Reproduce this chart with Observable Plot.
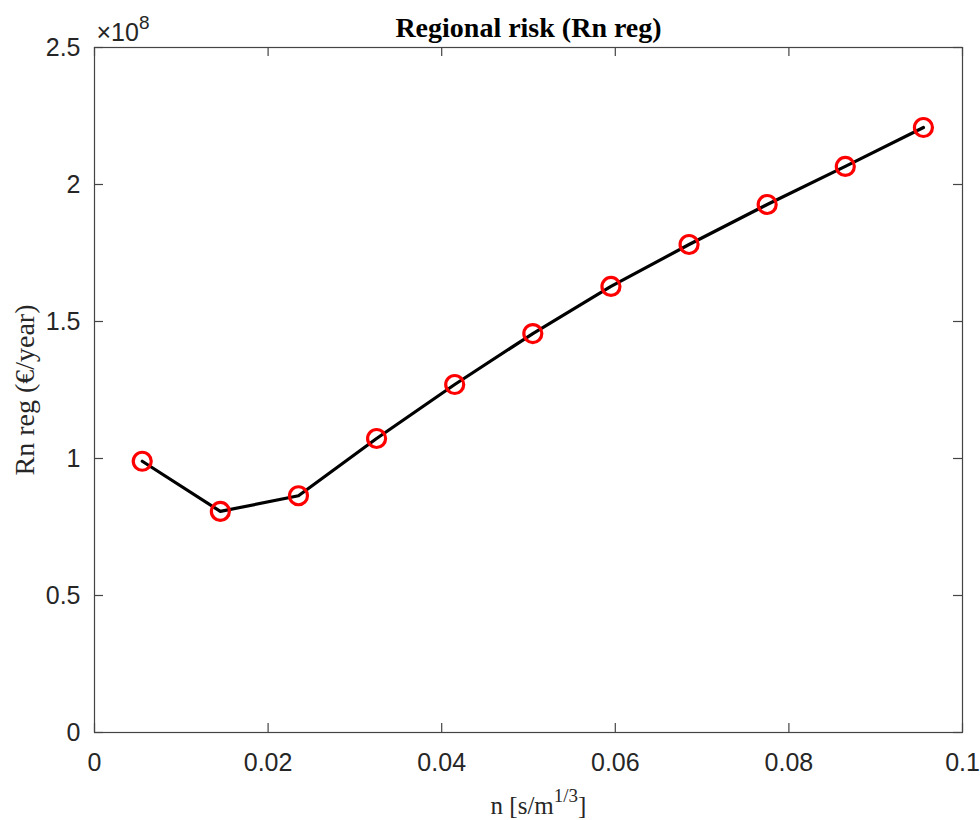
<!DOCTYPE html>
<html>
<head>
<meta charset="utf-8">
<script src="https://cdn.jsdelivr.net/npm/d3@7"></script>
<script src="https://cdn.jsdelivr.net/npm/@observablehq/plot@0.6"></script>
<style>
  html, body { margin: 0; padding: 0; background: #fff; }
  svg { display: block; }
</style>
</head>
<body>
<div id="chart"></div>
<script>
// ---- data ----
const nValues = [0.0055, 0.0145, 0.0235, 0.0325, 0.0415, 0.0505, 0.0595, 0.0685, 0.0775, 0.0865, 0.0955];
const riskValues = [0.990e8, 0.807e8, 0.864e8, 1.073e8, 1.270e8, 1.456e8, 1.628e8, 1.781e8, 1.927e8, 2.066e8, 2.208e8];
const xTicks = [0, 0.02, 0.04, 0.06, 0.08, 0.1];
const yTicks = [0, 0.5, 1, 1.5, 2, 2.5];
const xTickLabels = ["0", "0.02", "0.04", "0.06", "0.08", "0.1"];
const yTickLabels = ["0", "0.5", "1", "1.5", "2", "2.5"];
const exponent = 8;
const titleText = "Regional risk (Rn reg)";
const yLabelText = "Rn reg (\u20AC/year)";
const xLabelMain = "n [s/m";
const xLabelSup = "1/3";
const xLabelEnd = "]";

const data = nValues.map((n, i) => ({ n, r: riskValues[i] / Math.pow(10, exponent) }));

const W = 980, H = 820;
const mL = 94, mR = 18, mT = 47, mB = 88;
const fw = W - mL - mR, fh = H - mT - mB;
const tickLen = 9;
const axisColor = "#262626";
const frameColor = "#444";
const sans = "'Liberation Sans', Arial, Helvetica, sans-serif";
const serif = "'Liberation Serif', 'Times New Roman', Times, serif";

const svg = Plot.plot({
  width: W,
  height: H,
  marginLeft: mL, marginRight: mR, marginTop: mT, marginBottom: mB,
  x: { domain: [0, 0.1] },
  y: { domain: [0, 2.5] },
  style: { background: "#fff", overflow: "visible" },
  marks: [
    Plot.frame({ stroke: frameColor, strokeWidth: 1.2 }),
    // inward ticks, bottom & top
    Plot.tickX(xTicks, { x: d => d, insetTop: fh - tickLen, stroke: frameColor, strokeWidth: 1.2 }),
    Plot.tickX(xTicks, { x: d => d, insetBottom: fh - tickLen, stroke: frameColor, strokeWidth: 1.2 }),
    // inward ticks, left & right
    Plot.tickY(yTicks, { y: d => d, insetRight: fw - tickLen, stroke: frameColor, strokeWidth: 1.2 }),
    Plot.tickY(yTicks, { y: d => d, insetLeft: fw - tickLen, stroke: frameColor, strokeWidth: 1.2 }),
    Plot.axisX({ ticks: xTicks, tickSize: 0, tickPadding: 21, label: null,
      tickFormat: d => xTickLabels[xTicks.indexOf(d)], fontSize: 25, fontFamily: sans, fill: axisColor }),
    Plot.axisY({ ticks: yTicks, tickSize: 0, tickPadding: 14, label: null,
      tickFormat: d => yTickLabels[yTicks.indexOf(d)], fontSize: 25, fontFamily: sans, fill: axisColor }),
    Plot.line(data, { x: "n", y: "r", stroke: "#000", strokeWidth: 3.2 }),
    Plot.dot(data, { x: "n", y: "r", r: 9, stroke: "#ff0000", strokeWidth: 3.2, fill: "none" }),
    // title
    Plot.text([titleText], { text: d => d, frameAnchor: "top", dy: -11, lineAnchor: "bottom", textAnchor: "middle",
      fontSize: 28, fontWeight: "bold", fontFamily: serif, fill: "#000" }),
    // y label
    Plot.text([yLabelText], { text: d => d, frameAnchor: "left", dx: -69, rotate: -90, lineAnchor: "middle",
      textAnchor: "middle", fontSize: 28, fontFamily: serif, fill: axisColor }),
    // x label (superscript added below)
    Plot.text([xLabelMain + xLabelSup + xLabelEnd], { text: d => d, frameAnchor: "bottom", dx: 10, dy: 81, lineAnchor: "bottom",
      textAnchor: "middle", fontSize: 25, fontFamily: serif, fill: axisColor }),
    // exponent
    Plot.text(["\u00D710" + exponent], { text: d => d, frameAnchor: "top-left", dx: 2, dy: -7, lineAnchor: "bottom",
      textAnchor: "start", fontSize: 25, fontFamily: sans, fill: axisColor })
  ]
});

function findText(str) {
  return d3.select(svg).selectAll("text").filter(function () { return this.textContent === str; });
}

// superscripts
const xl = findText(xLabelMain + xLabelSup + xLabelEnd);
xl.text(null);
xl.append("tspan").text(xLabelMain);
xl.append("tspan").attr("dy", -12).attr("font-size", 19).text(xLabelSup);
xl.append("tspan").attr("dy", 12).text(xLabelEnd);

const ex = findText("\u00D710" + exponent);
ex.text(null);
ex.append("tspan").text("\u00D710");
ex.append("tspan").attr("dy", -12).attr("font-size", 19).text(String(exponent));

document.getElementById("chart").appendChild(svg);
</script>
</body>
</html>
